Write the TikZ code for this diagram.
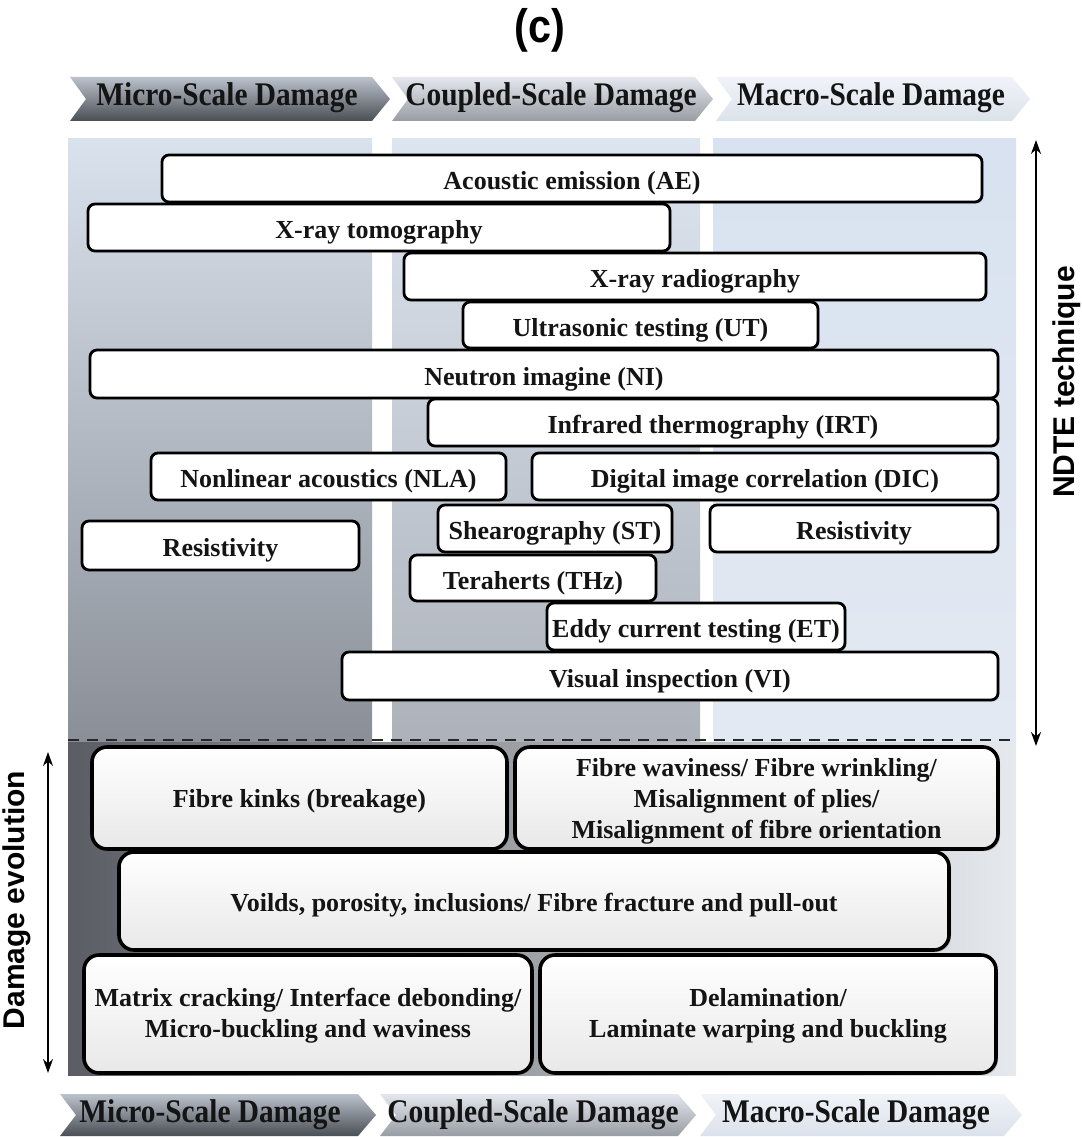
\documentclass[tikz,border=0pt]{standalone}
\usepackage{graphicx}
\usepackage{fontspec}
\setmainfont{Liberation Serif}
\newfontfamily\labelfont{Liberation Sans}
\usetikzlibrary{arrows.meta,shadows}
\definecolor{txt}{HTML}{141414}
\definecolor{colLtop}{HTML}{DAE2ED}
\definecolor{colLbot}{HTML}{8A8F97}
\definecolor{colMtop}{HTML}{DDE5F0}
\definecolor{colMbot}{HTML}{ADB2BA}
\definecolor{colRtop}{HTML}{D8E2F0}
\definecolor{colRbot}{HTML}{E3E9F2}
\definecolor{lowL}{HTML}{5A5E64}
\definecolor{lowR}{HTML}{E6E9ED}
\definecolor{chAtop}{HTML}{BCC2CC}
\definecolor{chAbot}{HTML}{4A4F56}
\definecolor{chBtop}{HTML}{E4E8EE}
\definecolor{chBbot}{HTML}{989CA3}
\definecolor{chCtop}{HTML}{F0F3F8}
\definecolor{chCbot}{HTML}{DCE2EB}
\begin{document}
\begin{tikzpicture}[x=1pt,y=-1pt,
  tbox/.style={draw=black, line width=2.8pt, rounded corners=7pt, fill=white,
    inner sep=0pt, text=txt, font=\fontsize{26}{30}\selectfont\bfseries,
    text height=22pt, text depth=0pt,
    drop shadow={shadow xshift=1.5pt, shadow yshift=-1.5pt, opacity=0.3}},
  lbox/.style={draw=black, line width=3.6pt, rounded corners=15pt,
    top color=white, bottom color=black!9, inner sep=0pt,
    drop shadow={shadow xshift=2pt, shadow yshift=-2pt, opacity=0.35}},
  ltext/.style={text=txt, align=center, inner sep=0pt,
    font=\fontsize{26}{31}\selectfont\bfseries},
  chtext/.style={text=txt, font=\fontsize{33}{36}\selectfont\bfseries, inner sep=0pt},
  sidelabel/.style={rotate=90, text=black, font=\labelfont\bfseries\fontsize{30}{33}\selectfont},
  dblarrow/.style={line width=1.6pt, {Stealth[length=14pt,width=10pt]}-{Stealth[length=14pt,width=10pt]}}
]
\useasboundingbox (0,0) rectangle (1081,1137);
\fill[white] (0,0) rectangle (1081,1137);

% title
\node[font=\labelfont\bfseries\fontsize{47}{50}\selectfont, text=black] (title) at (540,30) {\scalebox{0.88}[1]{(c)}};

% top banner chevrons
\shade[top color=chAtop, bottom color=chAbot] (70,77) -- (372,77) -- (390,99) -- (372,121) -- (70,121) -- (86,99) -- cycle;
\shade[top color=chBtop, bottom color=chBbot] (392,77) -- (695,77) -- (713,99) -- (695,121) -- (392,121) -- (408,99) -- cycle;
\shade[top color=chCtop, bottom color=chCbot] (716,77) -- (1012,77) -- (1030,99) -- (1012,121) -- (716,121) -- (732,99) -- cycle;
\node[chtext] (tmicro) at (227,98) {\scalebox{0.89}[1]{Micro-Scale Damage}};
\node[chtext] (tcoupled) at (551,98) {\scalebox{0.89}[1]{Coupled-Scale Damage}};
\node[chtext] (tmacro) at (871,98) {\scalebox{0.89}[1]{Macro-Scale Damage}};

% bottom banner chevrons
\shade[top color=chAtop, bottom color=chAbot] (60,1094) -- (358,1094) -- (376,1115) -- (358,1136) -- (60,1136) -- (76,1115) -- cycle;
\shade[top color=chBtop, bottom color=chBbot] (380,1094) -- (678,1094) -- (696,1115) -- (678,1136) -- (380,1136) -- (396,1115) -- cycle;
\shade[top color=chCtop, bottom color=chCbot] (700,1094) -- (1004,1094) -- (1022,1115) -- (1004,1136) -- (700,1136) -- (716,1115) -- cycle;
\node[chtext] (bmicro) at (210,1115) {\scalebox{0.89}[1]{Micro-Scale Damage}};
\node[chtext] (bcoupled) at (533,1115) {\scalebox{0.89}[1]{Coupled-Scale Damage}};
\node[chtext] (bmacro) at (856,1115) {\scalebox{0.89}[1]{Macro-Scale Damage}};

% background panels
\shade[top color=colLtop, bottom color=colLbot] (68,138) rectangle (372,742);
\shade[top color=colMtop, bottom color=colMbot] (392,138) rectangle (700,742);
\shade[top color=colRtop, bottom color=colRbot] (713,138) rectangle (1016,742);
\shade[left color=lowL, right color=lowR] (68,742) rectangle (1016,1075);

% dashed separator
\coordinate (dashL) at (68,740);
\coordinate (dashR) at (1016,740);
\draw[line width=2.8pt, dash pattern=on 11pt off 8pt, black!85] (dashL) -- (dashR);

% NDTE technique boxes
\node[tbox, minimum width=820pt, minimum height=47pt] (ae) at (572,178.5) {Acoustic emission (AE)};
\node[tbox, minimum width=582pt, minimum height=47pt] (xt) at (379,227.5) {X-ray tomography};
\node[tbox, minimum width=582pt, minimum height=47pt] (xr) at (695,276.5) {X-ray radiography};
\node[tbox, minimum width=355pt, minimum height=46pt] (ut) at (640.5,325) {Ultrasonic testing (UT)};
\node[tbox, minimum width=908pt, minimum height=48pt] (ni) at (544,374) {Neutron imagine (NI)};
\node[tbox, minimum width=570pt, minimum height=47pt] (irt) at (713,422.5) {Infrared thermography (IRT)};
\node[tbox, minimum width=355pt, minimum height=47pt] (nla) at (328.5,476.5) {Nonlinear acoustics (NLA)};
\node[tbox, minimum width=466pt, minimum height=47pt] (dic) at (765,476.5) {Digital image correlation (DIC)};
\node[tbox, minimum width=277pt, minimum height=49pt] (resl) at (220.5,545.5) {Resistivity};
\node[tbox, minimum width=234pt, minimum height=47pt] (st) at (555,528.5) {Shearography (ST)};
\node[tbox, minimum width=288pt, minimum height=47pt] (resr) at (854,528.5) {Resistivity};
\node[tbox, minimum width=246pt, minimum height=46pt] (thz) at (533,578) {Teraherts (THz)};
\node[tbox, minimum width=298pt, minimum height=47pt] (et) at (696,626.5) {Eddy current testing (ET)};
\node[tbox, minimum width=656pt, minimum height=48pt] (vi) at (670,676) {Visual inspection (VI)};

% damage evolution boxes
\node[lbox, minimum width=415pt, minimum height=102pt] (fk) at (299.5,798) {};
\node[ltext] (fkt) at ([yshift=-3pt]fk.center) {Fibre kinks (breakage)};
\node[lbox, minimum width=483pt, minimum height=102pt] (fw) at (756.5,798) {};
\node[ltext] (fwt) at ([yshift=-3pt]fw.center) {Fibre waviness/ Fibre wrinkling/\\Misalignment of plies/\\Misalignment of fibre orientation};
\node[lbox, minimum width=830pt, minimum height=98pt] (vo) at (534,901) {};
\node[ltext] (vot) at ([yshift=-4pt]vo.center) {Voilds, porosity, inclusions/ Fibre fracture and pull-out};
\node[lbox, minimum width=448pt, minimum height=118pt] (mc) at (308,1014) {};
\node[ltext] (mct) at ([yshift=-2pt]mc.center) {Matrix cracking/ Interface debonding/\\Micro-buckling and waviness};
\node[lbox, minimum width=456pt, minimum height=118pt] (de) at (768,1014) {};
\node[ltext] (det) at ([yshift=-2pt]de.center) {Delamination/\\Laminate warping and buckling};

% side arrows and labels
\coordinate (ndtetop) at (1036,140);
\coordinate (ndtebot) at (1036,746);
\draw[dblarrow] (ndtetop) -- (ndtebot);
\node[sidelabel] (ndte) at (1067,382) {NDTE technique};
\coordinate (devtop) at (48,752);
\coordinate (devbot) at (48,1073);
\draw[dblarrow] (devtop) -- (devbot);
\node[sidelabel] (dev) at (17,900) {Damage evolution};
\end{tikzpicture}
\end{document}
